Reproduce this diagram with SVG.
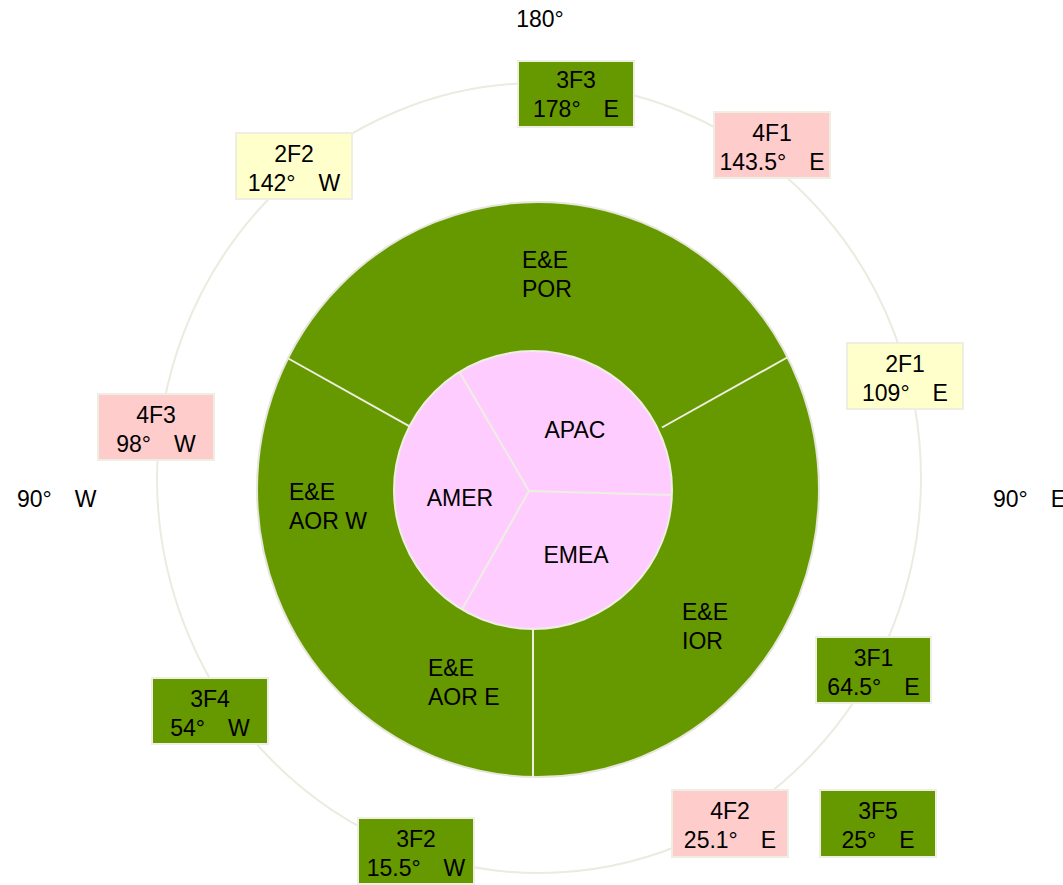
<svg xmlns="http://www.w3.org/2000/svg" width="1063" height="885" viewBox="0 0 1063 885">
<style>
text{font-family:"Liberation Sans","Noto Sans CJK SC",Arial,sans-serif;font-size:23px;fill:#000}
.m{text-anchor:middle}
.g{fill:#669900}
.p{fill:#ffcccc}
.y{fill:#ffffcc}
.box{stroke:#eeeee2;stroke-width:2}
.sp{stroke:#eeeee2;stroke-width:2;fill:none}
</style>
<rect width="1063" height="885" fill="#fff"/>
<g id="ring">
<ellipse cx="539" cy="478" rx="382" ry="395" fill="none" stroke="#ebebe0" stroke-width="2"/>
</g>
<g id="outer-disc">
<ellipse cx="538" cy="489.5" rx="281" ry="287.5" fill="#669900" stroke="#e6e6da" stroke-width="2"/>
</g>
<g id="connectors">
<line class="sp" x1="288.3" y1="358.5" x2="410" y2="426.7"/>
<line class="sp" x1="788" y1="357" x2="662" y2="427.5"/>
<line class="sp" x1="533" y1="630" x2="533" y2="777.5"/>
</g>
<g id="inner-disc">
<circle cx="533" cy="490" r="139" fill="#ffccff" stroke="#eeeee2" stroke-width="2"/>
<line class="sp" x1="529" y1="491" x2="460" y2="373"/>
<line class="sp" x1="529" y1="491" x2="672" y2="495"/>
<line class="sp" x1="529" y1="491" x2="461.7" y2="610"/>
</g>
<g id="APAC"><text class="m" x="575" y="438">APAC</text></g>
<g id="AMER"><text class="m" x="460" y="506">AMER</text></g>
<g id="EMEA"><text class="m" x="576" y="563">EMEA</text></g>
<g id="POR"><text x="522" y="268">E&amp;E</text><text x="522" y="297">POR</text></g>
<g id="AORW"><text x="289" y="500">E&amp;E</text><text x="289" y="529">AOR W</text></g>
<g id="IOR"><text x="682" y="620">E&amp;E</text><text x="682" y="649">IOR</text></g>
<g id="AORE"><text x="428" y="676">E&amp;E</text><text x="428" y="705">AOR E</text></g>
<g id="deg180"><text class="m" x="540" y="27">180°</text></g>
<g id="deg90W"><text x="17" y="507">90°&#x3000;W</text></g>
<g id="deg90E"><text x="993" y="507">90°&#x3000;E</text></g>
<g id="n3F3"><rect class="box g" x="518" y="61" width="116" height="66"/><text class="m" x="576" y="88">3F3</text><text class="m" x="576" y="117">178°&#x3000;E</text></g>
<g id="n4F1"><rect class="box p" x="714" y="112" width="116" height="66"/><text class="m" x="772" y="141">4F1</text><text class="m" x="772" y="170">143.5°&#x3000;E</text></g>
<g id="n2F2"><rect class="box y" x="236" y="133" width="116" height="66"/><text class="m" x="294" y="162">2F2</text><text class="m" x="294" y="191">142°&#x3000;W</text></g>
<g id="n2F1"><rect class="box y" x="847" y="343" width="116" height="66"/><text class="m" x="905" y="372">2F1</text><text class="m" x="905" y="401">109°&#x3000;E</text></g>
<g id="n4F3"><rect class="box p" x="98" y="394" width="116" height="66"/><text class="m" x="156" y="423">4F3</text><text class="m" x="156" y="452">98°&#x3000;W</text></g>
<g id="n3F1"><rect class="box g" x="816" y="637" width="115" height="66"/><text class="m" x="873.5" y="666">3F1</text><text class="m" x="873.5" y="695">64.5°&#x3000;E</text></g>
<g id="n3F4"><rect class="box g" x="152" y="678" width="116" height="66"/><text class="m" x="210" y="707">3F4</text><text class="m" x="210" y="736">54°&#x3000;W</text></g>
<g id="n4F2"><rect class="box p" x="672" y="790" width="116" height="67"/><text class="m" x="730" y="819">4F2</text><text class="m" x="730" y="848">25.1°&#x3000;E</text></g>
<g id="n3F5"><rect class="box g" x="820" y="790" width="116" height="67"/><text class="m" x="878" y="819">3F5</text><text class="m" x="878" y="848">25°&#x3000;E</text></g>
<g id="n3F2"><rect class="box g" x="358" y="818" width="116" height="66"/><text class="m" x="416" y="847">3F2</text><text class="m" x="416" y="876">15.5°&#x3000;W</text></g>
</svg>
